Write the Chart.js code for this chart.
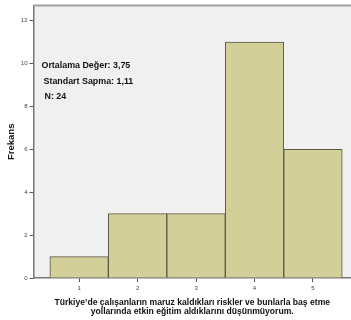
<!DOCTYPE html>
<html>
<head>
<meta charset="utf-8">
<script src="https://cdn.jsdelivr.net/npm/chart.js@4.4.1/dist/chart.umd.min.js"></script>
<style>
  html, body { margin: 0; padding: 0; background: #fff; }
  #wrap { width: 351px; height: 320px; position: relative; }
</style>
</head>
<body>
<div id="wrap"><canvas id="histChart"></canvas></div>
<script>
// Likert answers (1-5) and how many people picked each
const categories = [1, 2, 3, 4, 5];
const frequencies = [1, 3, 3, 11, 6];
const yTicks = [0, 2, 4, 6, 8, 10, 12];
const statLines = ['Ortalama Değer: 3,75', 'Standart Sapma: 1,11', 'N: 24'];
const xTitle = ['Türkiye’de çalışanların maruz kaldıkları riskler ve bunlarla baş etme',
                'yollarında etkin eğitim aldıklarını düşünmüyorum.'];

const FONT = "'Liberation Sans', Arial, sans-serif";

// grey plot background, top frame line and the stats text box
const plotDecor = {
    id: 'plotDecor',
    beforeDraw(chart) {
        const { ctx, chartArea: a } = chart;
        ctx.save();
        ctx.fillStyle = '#f0f0f0';
        ctx.fillRect(a.left, a.top, a.right - a.left, a.bottom - a.top);
        ctx.restore();
    },
    afterDraw(chart) {
        const { ctx, chartArea: a } = chart;
        ctx.save();
        ctx.strokeStyle = '#a0a0a0';
        ctx.lineWidth = 2;
        ctx.beginPath();
        ctx.moveTo(a.left, a.top);
        ctx.lineTo(a.right, a.top);
        ctx.stroke();

        ctx.fillStyle = '#111';
        ctx.font = 'bold 8.9px ' + FONT;
        ctx.textBaseline = 'middle';
        const indent = [0, 2, 3];
        statLines.forEach((t, i) => {
            ctx.fillText(t, a.left + 8 + indent[i], a.top + 60 + i * 15.7);
        });
        ctx.restore();
    }
};

new Chart(document.getElementById('histChart'), {
    type: 'bar',
    data: {
        datasets: [{
            data: categories.map((c, i) => ({ x: c, y: frequencies[i] })),
            backgroundColor: '#d3cf98',
            borderColor: '#5a5a4a',
            borderWidth: 1,
            barPercentage: 1,
            categoryPercentage: 1
        }]
    },
    options: {
        responsive: true,
        maintainAspectRatio: false,
        animation: false,
        layout: { padding: { top: 4, right: 0, left: 0, bottom: 0 } },
        plugins: {
            legend: { display: false },
            tooltip: { enabled: false }
        },
        scales: {
            x: {
                type: 'linear',
                offset: false,
                min: 0.22,
                max: 5.65,
                afterBuildTicks: (s) => { s.ticks = categories.map(v => ({ value: v })); },
                afterFit: (s) => { s.height = 42; },
                grid: { offset: false, drawOnChartArea: false, drawTicks: true, tickLength: 4, color: '#555' },
                border: { display: true, color: '#777', width: 1.5 },
                ticks: { font: { size: 6, family: FONT }, color: '#444', padding: 2.5, maxRotation: 0 },
                title: {
                    display: true,
                    text: xTitle,
                    color: '#111',
                    font: { size: 8.6, weight: 'bold', family: FONT, lineHeight: 1.05 },
                    padding: { top: 2, bottom: 4 }
                }
            },
            y: {
                min: 0,
                max: 12.7,
                afterBuildTicks: (s) => { s.ticks = yTicks.map(v => ({ value: v })); },
                afterFit: (s) => { s.width = 33.5; },
                grid: { drawOnChartArea: false, drawTicks: true, tickLength: 4, color: '#555' },
                border: { display: true, color: '#777', width: 1.5 },
                ticks: { font: { size: 6, family: FONT }, color: '#444', padding: 2 },
                title: {
                    display: true,
                    text: 'Frekans',
                    color: '#111',
                    font: { size: 9.5, weight: 'bold', family: FONT },
                    padding: { top: 6, bottom: 0 }
                }
            }
        }
    },
    plugins: [plotDecor]
});
</script>
</body>
</html>
